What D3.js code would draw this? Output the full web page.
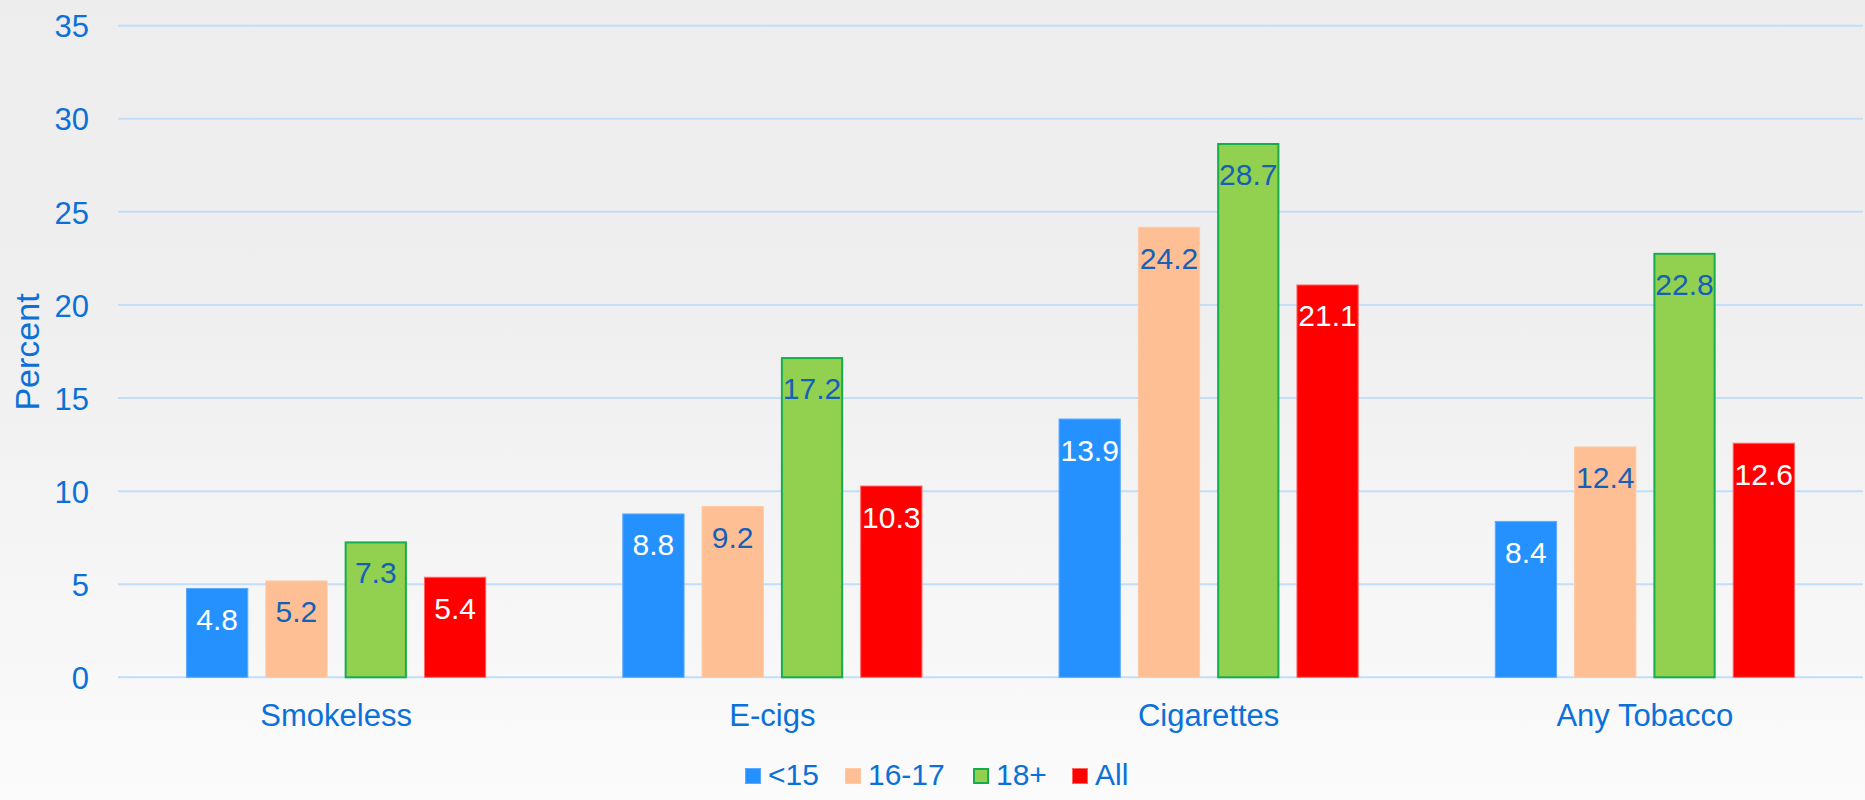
<!DOCTYPE html>
<html>
<head>
<meta charset="utf-8">
<script src="https://cdn.jsdelivr.net/npm/d3@7"></script>
<style>
  html, body { margin: 0; padding: 0; }
  body { width: 1865px; height: 800px; overflow: hidden; }
  text { font-family: "Liberation Sans", Arial, sans-serif; }
</style>
</head>
<body>
<svg id="chart" width="1865" height="800"></svg>
<script>
const categories = ["Smokeless", "E-cigs", "Cigarettes", "Any Tobacco"];
const seriesNames = ["<15", "16-17", "18+", "All"];
const valuesUnder15 = [4.8, 8.8, 13.9, 8.4];
const values16to17 = [5.2, 9.2, 24.2, 12.4];
const values18plus = [7.3, 17.2, 28.7, 22.8];
const valuesAll = [5.4, 10.3, 21.1, 12.6];
const yTicks = [0, 5, 10, 15, 20, 25, 30, 35];
const yTitle = "Percent";

const seriesValues = [valuesUnder15, values16to17, values18plus, valuesAll];
const fills = ["#2491ff", "#ffbf94", "#92d050", "#ff0000"];
const strokes = ["#5aaaff", "#ffc9a4", "#16ad4a", "#ff6666"];
const strokeW = [1, 1, 2, 1];
const labelColors = ["#ffffff", "#1560b8", "#1560b8", "#ffffff"];
const axisColor = "#0b70d8";

const svg = d3.select("#chart");
const W = 1865, H = 800;

const defs = svg.append("defs");
const grad = defs.append("linearGradient").attr("id", "bg").attr("x1", 0).attr("y1", 0).attr("x2", 0).attr("y2", 1);
grad.append("stop").attr("offset", "0%").attr("stop-color", "#ededed");
grad.append("stop").attr("offset", "40%").attr("stop-color", "#efefef");
grad.append("stop").attr("offset", "100%").attr("stop-color", "#fbfbfb");
svg.append("rect").attr("width", W).attr("height", H).attr("fill", "url(#bg)");

const left = 118, right = 1863;
const y = d3.scaleLinear().domain([0, 35]).range([677.3, 25.7]);
const x0 = d3.scaleBand().domain(categories).range([left, right]).paddingInner(0.312).paddingOuter(0.156);
const x1 = d3.scaleBand().domain(seriesNames).range([0, x0.bandwidth()]).paddingInner(0.215).paddingOuter(0);

// gridlines
svg.append("g").selectAll("line").data(yTicks).join("line")
  .attr("x1", left).attr("x2", right)
  .attr("y1", d => y(d)).attr("y2", d => y(d))
  .attr("stroke", "#c3def9").attr("stroke-width", 2);

// y axis tick labels
const yAxis = d3.axisLeft(y).tickValues(yTicks).tickSize(0).tickPadding(0).tickFormat(d3.format("d"));
const gy = svg.append("g").attr("transform", "translate(89,0)").call(yAxis);
gy.select(".domain").remove();
gy.selectAll("text").attr("font-size", 31).attr("fill", axisColor)
  .attr("font-family", "Liberation Sans, Arial, sans-serif").attr("dy", "0.36em");

// y title
svg.append("text")
  .attr("transform", "translate(39,352) rotate(-90)")
  .attr("text-anchor", "middle")
  .attr("font-size", 34).attr("fill", axisColor)
  .text(yTitle);

// x axis labels
const xAxis = d3.axisBottom(x0).tickSize(0).tickPadding(0);
const gx = svg.append("g").attr("transform", "translate(0,726)").call(xAxis);
gx.select(".domain").remove();
gx.selectAll("text").attr("font-size", 31).attr("fill", axisColor)
  .attr("font-family", "Liberation Sans, Arial, sans-serif").attr("dy", 0);

// bars
const groups = svg.append("g").selectAll("g").data(categories).join("g")
  .attr("transform", d => `translate(${x0(d)},0)`);

groups.each(function(cat, ci) {
  const g = d3.select(this);
  seriesNames.forEach((s, si) => {
    const v = seriesValues[si][ci];
    const sw = strokeW[si];
    g.append("rect")
      .attr("x", x1(s) + sw / 2)
      .attr("y", y(v) + sw / 2)
      .attr("width", x1.bandwidth() - sw)
      .attr("height", y(0) - y(v) - sw / 2)
      .attr("fill", fills[si])
      .attr("stroke", strokes[si])
      .attr("stroke-width", sw);
    g.append("text")
      .attr("x", x1(s) + x1.bandwidth() / 2)
      .attr("y", y(v) + 42)
      .attr("text-anchor", "middle")
      .attr("font-size", 30)
      .attr("fill", labelColors[si])
      .text(v.toFixed(1));
  });
});

// legend
const legendX = [745, 845, 973, 1072];
const legend = svg.append("g");
seriesNames.forEach((s, i) => {
  const sw = strokeW[i];
  legend.append("rect")
    .attr("x", legendX[i] + sw / 2).attr("y", 768 + sw / 2)
    .attr("width", 16 - sw).attr("height", 16 - sw)
    .attr("fill", fills[i]).attr("stroke", strokes[i]).attr("stroke-width", sw);
  legend.append("text")
    .attr("x", legendX[i] + 23).attr("y", 785)
    .attr("font-size", 30).attr("fill", axisColor)
    .text(s);
});
</script>
</body>
</html>
